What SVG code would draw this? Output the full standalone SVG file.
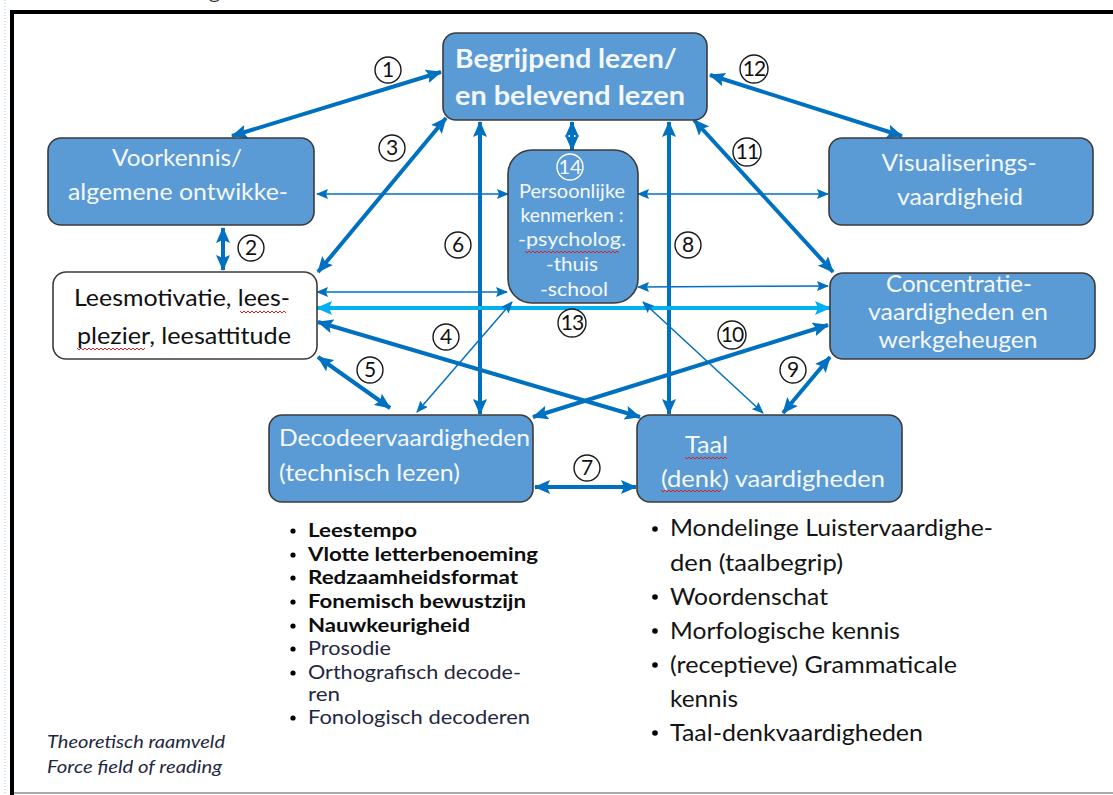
<svg xmlns="http://www.w3.org/2000/svg" width="1113" height="795" viewBox="0 0 1113 795">
  <style>
    .box { fill: #5b9bd5; stroke: #3b3b3b; stroke-width: 1.6; }
    .wbox { fill: #ffffff; stroke: #3b3b3b; stroke-width: 1.6; }
    .t { font-family: Lato, "Open Sans", sans-serif; fill: #f4f8fc; }
    .tk { font-family: Lato, "Open Sans", sans-serif; fill: #111111; }
    .thick { stroke: #0070c0; stroke-width: 4; fill: none; marker-start: url(#ah); marker-end: url(#ah); }
    .thin { stroke: #0070c0; stroke-width: 1.5; fill: none; marker-start: url(#as); marker-end: url(#as); }
    .cyan { stroke: #00b0f0; stroke-width: 4; fill: none; marker-start: url(#ac); marker-end: url(#ac); }
    .num circle { fill: #ffffff; stroke: #1a1a1a; stroke-width: 1.4; }
    .num text { font-family: Lato, "Open Sans", sans-serif; font-size: 21px; fill: #111111; text-anchor: middle; }
    .sq { fill: none; stroke: #e02020; stroke-width: 1; }
    .li { font-family: Lato, "Open Sans", sans-serif; font-size: 19.5px; fill: #1f2840; }
    .lb { font-family: Lato, "Open Sans", sans-serif; font-size: 19.5px; font-weight: bold; fill: #0d0d0d; }
    .lr { font-family: Lato, "Open Sans", sans-serif; font-size: 24px; fill: #141414; }
  </style>
  <defs>
    <marker id="ah" markerUnits="userSpaceOnUse" markerWidth="16" markerHeight="14" refX="15" refY="7" orient="auto-start-reverse">
      <path d="M0,0 L16,7 L0,14 L3,7 z" fill="#0070c0"/>
    </marker>
    <marker id="as" markerUnits="userSpaceOnUse" markerWidth="12" markerHeight="10" refX="11" refY="5" orient="auto-start-reverse">
      <path d="M0,0 L12,5 L0,10 L2,5 z" fill="#0070c0"/>
    </marker>
    <marker id="ac" markerUnits="userSpaceOnUse" markerWidth="16" markerHeight="14" refX="15" refY="7" orient="auto-start-reverse">
      <path d="M0,0 L16,7 L0,14 L3,7 z" fill="#00b0f0"/>
    </marker>
  </defs>

  <!-- page and frame -->
  <rect x="0" y="0" width="1113" height="795" fill="#ffffff"/>
  <text x="20" y="-1" font-family="Lato, sans-serif" font-size="17" fill="#3a3a3a" textLength="200" lengthAdjust="spacingAndGlyphs">Force field of reading</text>
  <line x1="5" y1="0" x2="5" y2="795" stroke="#9dc3e6" stroke-width="1" stroke-dasharray="1 2"/>
  <line x1="12" y1="12" x2="1113" y2="12" stroke="#000000" stroke-width="4"/>
  <line x1="12" y1="10" x2="12" y2="795" stroke="#000000" stroke-width="4"/>
  <line x1="14" y1="793" x2="1113" y2="793" stroke="#8c8c8c" stroke-width="1.5"/>

  <!-- connectors -->
  <g id="connectors">
    <line class="thick" x1="232" y1="136" x2="441" y2="72"/>
    <line class="thick" x1="710" y1="75" x2="902" y2="136"/>
    <line class="thick" x1="223" y1="228" x2="223" y2="270"/>
    <line class="thick" x1="446" y1="118" x2="318" y2="272"/>
    <line class="thick" x1="694" y1="120" x2="833" y2="272"/>
    <line class="thick" x1="480" y1="122" x2="480" y2="414"/>
    <line class="thick" x1="669" y1="122" x2="669" y2="414"/>
    <line class="thick" x1="572" y1="122" x2="572" y2="150"/>
    <line class="thin" x1="317" y1="194" x2="508" y2="194"/>
    <line class="thin" x1="638" y1="194" x2="828" y2="194"/>
    <line class="thin" x1="317" y1="292" x2="507" y2="292"/>
    <line class="thin" x1="638" y1="287" x2="828" y2="286"/>
    <line class="cyan" x1="317" y1="308" x2="830" y2="308"/>
    <line class="thick" x1="318" y1="322" x2="640" y2="417"/>
    <line class="thick" x1="828" y1="325" x2="533" y2="417"/>
    <line class="thick" x1="318" y1="357" x2="390" y2="408"/>
    <line class="thick" x1="830" y1="357" x2="783" y2="413"/>
    <line class="thick" x1="535" y1="487" x2="636" y2="487"/>
    <line class="thin" x1="512" y1="302" x2="417" y2="412"/>
    <line class="thin" x1="643" y1="302" x2="763" y2="413"/>
  </g>

  <!-- nodes -->
  <g id="begrijpend">
    <rect class="box" x="443" y="33" width="264" height="87" rx="13"/>
    <text class="t" x="455" y="68" font-size="26" font-weight="bold" textLength="222" lengthAdjust="spacingAndGlyphs">Begrijpend lezen/</text>
    <text class="t" x="455" y="105" font-size="26" font-weight="bold" textLength="230" lengthAdjust="spacingAndGlyphs">en belevend lezen</text>
  </g>
  <g id="voorkennis">
    <rect class="box" x="48" y="138" width="266" height="87" rx="13"/>
    <text class="t" x="177" y="166" font-size="24" text-anchor="middle" textLength="130" lengthAdjust="spacingAndGlyphs">Voorkennis/</text>
    <text class="t" x="178" y="200" font-size="24" text-anchor="middle" textLength="220" lengthAdjust="spacingAndGlyphs">algemene ontwikke-</text>
  </g>
  <g id="leesmotivatie">
    <rect class="wbox" x="53" y="272" width="264" height="87" rx="13"/>
    <text class="tk" x="74" y="306" font-size="24" textLength="216" lengthAdjust="spacingAndGlyphs">Leesmotivatie, lees-</text>
    <text class="tk" x="77" y="344" font-size="24" textLength="214" lengthAdjust="spacingAndGlyphs">plezier, leesattitude</text>
    <path class="sq" d="M240,311 l2,2 l2,-2 l2,2 l2,-2 l2,2 l2,-2 l2,2 l2,-2 l2,2 l2,-2 l2,2 l2,-2 l2,2 l2,-2 l2,2 l2,-2 l2,2 l2,-2 l2,2 l2,-2 l2,2 l2,-2 l2,2"/>
    <path class="sq" d="M77,348 l2,2 l2,-2 l2,2 l2,-2 l2,2 l2,-2 l2,2 l2,-2 l2,2 l2,-2 l2,2 l2,-2 l2,2 l2,-2 l2,2 l2,-2 l2,2 l2,-2 l2,2 l2,-2 l2,2 l2,-2 l2,2 l2,-2 l2,2 l2,-2 l2,2 l2,-2 l2,2 l2,-2 l2,2 l2,-2 l2,2 l2,-2"/>
  </g>
  <g id="persoonlijk">
    <rect class="box" x="508" y="150" width="130" height="153" rx="24"/>
    <circle cx="570" cy="167" r="13" fill="none" stroke="#ffffff" stroke-width="1.4"/>
    <text class="t" x="570" y="174" font-size="20" text-anchor="middle">14</text>
    <text class="t" x="572" y="198" font-size="19" text-anchor="middle" textLength="106" lengthAdjust="spacingAndGlyphs">Persoonlijke</text>
    <text class="t" x="572" y="222" font-size="19" text-anchor="middle" textLength="103" lengthAdjust="spacingAndGlyphs">kenmerken :</text>
    <text class="t" x="572" y="246" font-size="19" text-anchor="middle" textLength="108" lengthAdjust="spacingAndGlyphs">-psycholog.</text>
    <text class="t" x="572" y="271" font-size="19" text-anchor="middle" textLength="52" lengthAdjust="spacingAndGlyphs">-thuis</text>
    <text class="t" x="574" y="296" font-size="19" text-anchor="middle" textLength="68" lengthAdjust="spacingAndGlyphs">-school</text>
    <path class="sq" d="M525,251 l2,2 l2,-2 l2,2 l2,-2 l2,2 l2,-2 l2,2 l2,-2 l2,2 l2,-2 l2,2 l2,-2 l2,2 l2,-2 l2,2 l2,-2 l2,2 l2,-2 l2,2 l2,-2 l2,2 l2,-2 l2,2 l2,-2 l2,2 l2,-2 l2,2 l2,-2 l2,2 l2,-2 l2,2 l2,-2 l2,2 l2,-2 l2,2 l2,-2 l2,2 l2,-2 l2,2 l2,-2 l2,2 l2,-2 l2,2 l2,-2 l2,2 l2,-2 l2,2"/>
  </g>
  <g id="visualisering">
    <rect class="box" x="829" y="138" width="264" height="87" rx="13"/>
    <text class="t" x="959" y="171" font-size="24" text-anchor="middle" textLength="155" lengthAdjust="spacingAndGlyphs">Visualiserings-</text>
    <text class="t" x="960" y="205" font-size="24" text-anchor="middle" textLength="126" lengthAdjust="spacingAndGlyphs">vaardigheid</text>
  </g>
  <g id="concentratie">
    <rect class="box" x="830" y="273" width="265" height="86" rx="13"/>
    <text class="t" x="959" y="292" font-size="24" text-anchor="middle" textLength="146" lengthAdjust="spacingAndGlyphs">Concentratie-</text>
    <text class="t" x="958" y="320" font-size="24" text-anchor="middle" textLength="180" lengthAdjust="spacingAndGlyphs">vaardigheden en</text>
    <text class="t" x="958" y="348" font-size="24" text-anchor="middle" textLength="159" lengthAdjust="spacingAndGlyphs">werkgeheugen</text>
  </g>
  <g id="decodeer">
    <rect class="box" x="269" y="415" width="264" height="87" rx="13"/>
    <text class="t" x="279" y="446" font-size="24" textLength="251" lengthAdjust="spacingAndGlyphs">Decodeervaardigheden</text>
    <text class="t" x="279" y="481" font-size="24" textLength="181" lengthAdjust="spacingAndGlyphs">(technisch lezen)</text>
  </g>
  <g id="taal">
    <rect class="box" x="637" y="415" width="265" height="87" rx="13"/>
    <text class="t" x="685" y="453" font-size="24" textLength="43" lengthAdjust="spacingAndGlyphs">Taal</text>
    <text class="t" x="661" y="487" font-size="24" textLength="224" lengthAdjust="spacingAndGlyphs">(denk) vaardigheden</text>
    <path class="sq" d="M685,457 l2,2 l2,-2 l2,2 l2,-2 l2,2 l2,-2 l2,2 l2,-2 l2,2 l2,-2 l2,2 l2,-2 l2,2 l2,-2 l2,2 l2,-2 l2,2 l2,-2 l2,2 l2,-2 l2,2"/>
    <path class="sq" d="M661,490 l2,2 l2,-2 l2,2 l2,-2 l2,2 l2,-2 l2,2 l2,-2 l2,2 l2,-2 l2,2 l2,-2 l2,2 l2,-2 l2,2 l2,-2 l2,2 l2,-2 l2,2 l2,-2 l2,2 l2,-2 l2,2 l2,-2 l2,2 l2,-2 l2,2 l2,-2 l2,2 l2,-2"/>
  </g>

  <!-- circled relation numbers -->
  <g id="numbers" class="num">
    <g><circle cx="388" cy="70" r="13"/><text x="388" y="77">1</text></g>
    <g><circle cx="251" cy="248" r="13"/><text x="251" y="255">2</text></g>
    <g><circle cx="392" cy="148" r="13"/><text x="392" y="155">3</text></g>
    <g><circle cx="446" cy="337" r="13"/><text x="446" y="344">4</text></g>
    <g><circle cx="370" cy="370" r="13"/><text x="370" y="377">5</text></g>
    <g><circle cx="458" cy="245" r="13"/><text x="458" y="252">6</text></g>
    <g><circle cx="587" cy="468" r="13"/><text x="587" y="475">7</text></g>
    <g><circle cx="688" cy="245" r="13"/><text x="688" y="252">8</text></g>
    <g><circle cx="793" cy="370" r="13"/><text x="793" y="377">9</text></g>
    <g><circle cx="732" cy="335" r="14"/><text x="732" y="342" letter-spacing="-1">10</text></g>
    <g><circle cx="747" cy="152" r="14"/><text x="747" y="159" letter-spacing="-1">11</text></g>
    <g><circle cx="754" cy="69" r="14"/><text x="754" y="76" letter-spacing="-1">12</text></g>
    <g><circle cx="572" cy="323" r="14"/><text x="572" y="330" letter-spacing="-1">13</text></g>
  </g>

  <!-- decoding skills list -->
  <g id="list-decodeer">
    <g fill="#000000">
      <circle cx="293" cy="531" r="2.6"/><circle cx="293" cy="555" r="2.6"/><circle cx="293" cy="578" r="2.6"/>
      <circle cx="293" cy="602" r="2.6"/><circle cx="293" cy="626" r="2.6"/><circle cx="293" cy="649" r="2.6"/>
      <circle cx="293" cy="673" r="2.6"/><circle cx="293" cy="718" r="2.6"/>
    </g>
    <text class="lb" x="308" y="537" textLength="109" lengthAdjust="spacingAndGlyphs">Leestempo</text>
    <text class="lb" x="308" y="561" textLength="230" lengthAdjust="spacingAndGlyphs">Vlotte letterbenoeming</text>
    <text class="lb" x="308" y="584" textLength="210" lengthAdjust="spacingAndGlyphs">Redzaamheidsformat</text>
    <text class="lb" x="308" y="608" textLength="218" lengthAdjust="spacingAndGlyphs">Fonemisch bewustzijn</text>
    <text class="lb" x="308" y="632" textLength="162" lengthAdjust="spacingAndGlyphs">Nauwkeurigheid</text>
    <text class="li" x="308" y="655" textLength="83" lengthAdjust="spacingAndGlyphs">Prosodie</text>
    <text class="li" x="308" y="679" textLength="213" lengthAdjust="spacingAndGlyphs">Orthografisch decode-</text>
    <text class="li" x="308" y="701" textLength="32" lengthAdjust="spacingAndGlyphs">ren</text>
    <text class="li" x="308" y="724" textLength="222" lengthAdjust="spacingAndGlyphs">Fonologisch decoderen</text>
  </g>

  <!-- language skills list -->
  <g id="list-taal">
    <g fill="#000000">
      <circle cx="655" cy="529" r="2.8"/><circle cx="655" cy="597" r="2.8"/><circle cx="655" cy="631" r="2.8"/>
      <circle cx="655" cy="665" r="2.8"/><circle cx="655" cy="733" r="2.8"/>
    </g>
    <text class="lr" x="670" y="536" textLength="323" lengthAdjust="spacingAndGlyphs">Mondelinge Luistervaardighe-</text>
    <text class="lr" x="670" y="571" textLength="173" lengthAdjust="spacingAndGlyphs">den (taalbegrip)</text>
    <text class="lr" x="670" y="605" textLength="158" lengthAdjust="spacingAndGlyphs">Woordenschat</text>
    <text class="lr" x="670" y="639" textLength="230" lengthAdjust="spacingAndGlyphs">Morfologische kennis</text>
    <text class="lr" x="670" y="673" textLength="287" lengthAdjust="spacingAndGlyphs">(receptieve) Grammaticale</text>
    <text class="lr" x="670" y="707" textLength="68" lengthAdjust="spacingAndGlyphs">kennis</text>
    <text class="lr" x="670" y="741" textLength="253" lengthAdjust="spacingAndGlyphs">Taal-denkvaardigheden</text>
  </g>

  <!-- caption -->
  <g id="caption" font-family="Lato, sans-serif" font-size="17" font-style="italic" fill="#1f2840">
    <text x="47" y="748" textLength="178" lengthAdjust="spacingAndGlyphs">Theoretisch raamveld</text>
    <text x="47" y="773" textLength="175" lengthAdjust="spacingAndGlyphs">Force field of reading</text>
  </g>
</svg>
